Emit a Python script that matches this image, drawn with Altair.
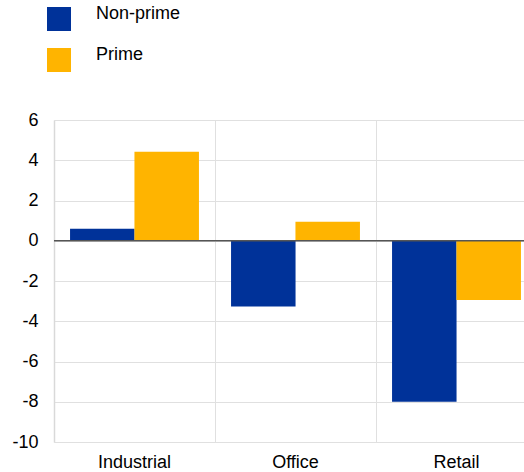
import altair as alt
import pandas as pd

categories = ["Industrial", "Office", "Retail"]
series = ["Non-prime", "Prime"]
non_prime = [0.6, -3.27, -8.0]
prime = [4.42, 0.94, -2.94]
colors = ["#003299", "#FFB400"]

rows = []
for i, c in enumerate(categories):
    rows.append({"cat": c, "series": series[0], "value": non_prime[i]})
    rows.append({"cat": c, "series": series[1], "value": prime[i]})
df = pd.DataFrame(rows)

FONT = "Liberation Sans"
FS = 18

x_enc = alt.X(
    "cat:N",
    sort=categories,
    title=None,
    scale=alt.Scale(range=[0, 483], paddingInner=0, paddingOuter=0),
    axis=alt.Axis(
        grid=True, bandPosition=0, gridColor="#e0e0e0", gridWidth=1,
        domain=False, ticks=False, labelAngle=0, labelFontSize=FS,
        labelFont=FONT, labelColor="#000000", labelPadding=11,
    ),
)

bars = alt.Chart(df).mark_bar(size=64.5, stroke=None).encode(
    x=x_enc,
    xOffset=alt.XOffset("series:N", sort=series,
                        scale=alt.Scale(paddingOuter=0.25, paddingInner=0)),
    y=alt.Y(
        "value:Q",
        title=None,
        scale=alt.Scale(domain=[-10, 6], nice=False, zero=False),
        axis=alt.Axis(
            values=[-10, -8, -6, -4, -2, 0, 2, 4, 6], grid=True,
            gridColor="#e0e0e0", gridWidth=1, domain=True,
            domainColor="#d9d9d9", domainWidth=1.5, ticks=False,
            labelFontSize=FS, labelFont=FONT, labelColor="#000000",
            labelPadding=16, labelExpr="datum.value + ''",
        ),
    ),
    color=alt.Color(
        "series:N",
        sort=series,
        scale=alt.Scale(domain=series, range=colors),
        legend=alt.Legend(
            title=None, orient="none", legendX=-7, legendY=-113,
            symbolType="square", symbolSize=576, symbolStrokeWidth=0,
            labelFontSize=FS, labelFont=FONT, labelColor="#000000",
            labelOffset=25, rowPadding=15, labelBaseline="alphabetic",
            padding=0,
        ),
    ),
)

zero = alt.Chart(pd.DataFrame({"v": [0]})).mark_rule(
    color="#555555", strokeWidth=1.5
).encode(y=alt.Y("v:Q"))

chart = alt.layer(bars, zero).properties(
    width=470, height=322,
    autosize=alt.AutoSizeParams(type="none"),
    padding={"left": 54, "top": 120, "right": 0, "bottom": 30},
).configure_view(stroke=None)

chart.save("out.html", embed_options={"renderer": "svg", "actions": False})
